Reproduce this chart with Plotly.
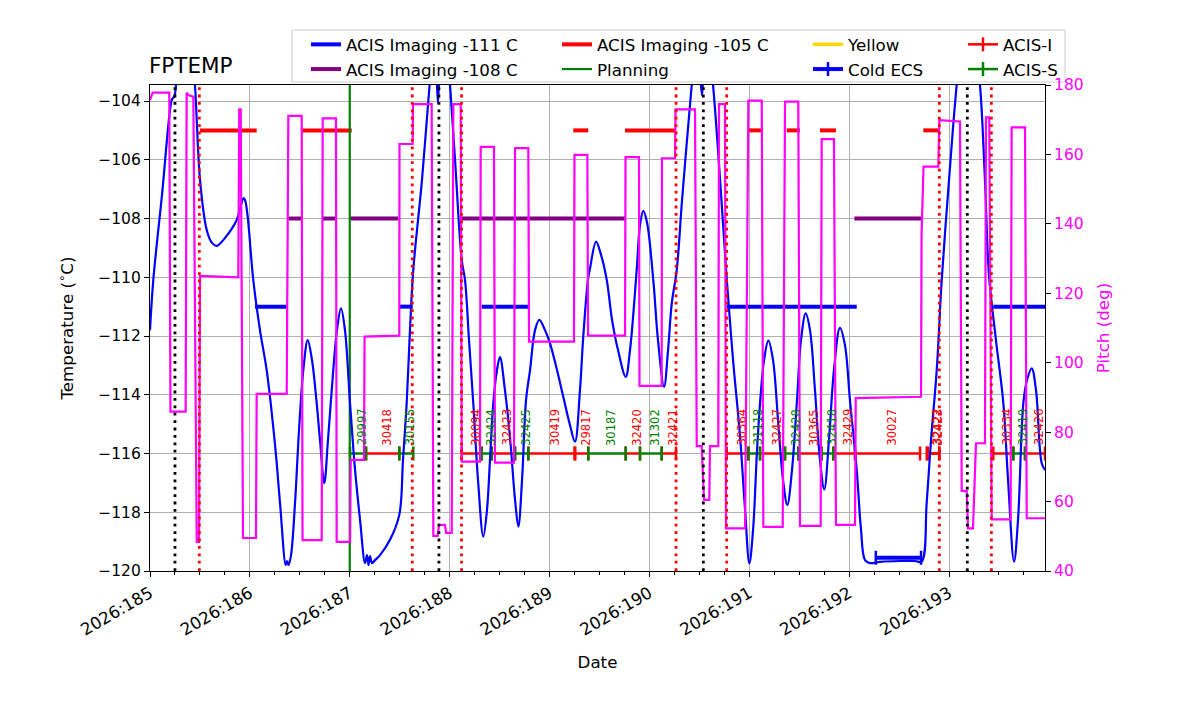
import plotly.graph_objects as go

# ---------------- data ----------------
temp_day = [185.000,185.033,185.120,185.217,185.230,185.245,185.265,185.31,185.36,185.41,185.450,185.501,185.568,185.621,185.668,185.751,185.868,185.911,185.934,185.951,185.976,186.034,186.101,186.168,186.252,186.302,186.359,186.372,186.387,186.412,186.452,186.492,186.535,186.579,186.622,186.669,186.702,186.745,186.782,186.835,186.872,186.912,186.952,187.003,187.053,187.103,187.153,187.173,187.188,187.203,187.223,187.253,187.303,187.403,187.496,187.533,187.570,187.603,187.636,187.723,187.803,187.843,187.863,187.883,187.903,187.944,187.974,188.004,188.054,188.121,188.154,188.194,188.237,188.284,188.337,188.374,188.404,188.437,188.474,188.504,188.554,188.604,188.655,188.688,188.725,188.765,188.805,188.855,188.898,188.955,189.005,189.075,189.138,189.205,189.255,189.305,189.338,189.385,189.406,189.466,189.516,189.573,189.626,189.686,189.763,189.806,189.873,189.906,189.939,189.976,190.039,190.086,190.147,190.187,190.224,190.274,190.327,190.424,190.457,190.487,190.527,190.557,190.597,190.637,190.708,190.775,190.838,190.908,190.958,191.001,191.038,191.078,191.108,191.148,191.191,191.238,191.288,191.338,191.381,191.428,191.478,191.518,191.565,191.608,191.658,191.708,191.751,191.798,191.848,191.908,191.958,192.008,192.076,192.119,192.159,192.209,192.309,192.509,192.659,192.726,192.776,192.820,192.877,192.927,193.000,193.077,193.130,193.190,193.250,193.310,193.360,193.400,193.470,193.544,193.591,193.651,193.691,193.744,193.781,193.828,193.871,193.928,193.961]
temp_val = [-111.80,-110.09,-107.20,-103.97,-103.90,-103.83,-103.29,-101.58,-101.24,-101.92,-103.45,-106.69,-108.39,-108.83,-108.93,-108.66,-108.05,-107.54,-107.31,-107.37,-107.88,-110.09,-111.80,-113.16,-115.71,-117.70,-119.80,-119.66,-119.80,-119.46,-117.69,-115.20,-113.16,-112.14,-112.82,-114.29,-115.54,-117.01,-115.54,-113.16,-111.80,-111.06,-111.80,-114.29,-116.56,-118.26,-119.73,-119.46,-119.80,-119.49,-119.73,-119.63,-119.46,-118.94,-118.09,-116.22,-114.28,-111.80,-109.75,-106.69,-103.29,-101.92,-102.60,-104.07,-102.60,-101.58,-102.26,-103.45,-106.00,-109.41,-110.09,-112.14,-114.29,-116.90,-118.83,-117.92,-116.22,-114.29,-113.16,-112.72,-113.84,-115.43,-117.58,-118.49,-116.90,-114.18,-113.16,-111.80,-111.45,-111.80,-112.25,-113.16,-114.07,-115.03,-115.60,-113.84,-112.02,-110.09,-109.69,-108.79,-109.24,-110.09,-111.45,-112.48,-113.39,-112.48,-109.75,-108.22,-107.74,-108.13,-110.09,-112.14,-113.73,-112.48,-110.89,-109.75,-107.37,-103.45,-102.26,-102.43,-103.80,-102.43,-102.26,-103.45,-106.69,-110.09,-112.82,-115.43,-117.92,-119.74,-118.60,-115.88,-114.29,-112.82,-112.16,-112.82,-114.86,-116.90,-117.75,-116.56,-114.18,-112.14,-111.23,-111.80,-113.84,-116.22,-117.22,-115.54,-113.16,-111.72,-112.31,-114.18,-116.56,-118.60,-119.63,-119.73,-119.69,-119.66,-119.66,-119.68,-117.70,-115.54,-113.16,-110.09,-106.69,-103.45,-101.92,-101.24,-101.75,-103.45,-106.69,-109.92,-112.14,-114.29,-116.90,-119.68,-118.26,-114.29,-113.50,-113.10,-113.84,-116.33,-116.56]

pitch_day = [185.000,185.027,185.193,185.205,185.357,185.367,185.385,185.434,185.468,185.491,185.501,185.884,185.894,185.908,185.931,186.061,186.068,186.369,186.385,186.519,186.527,186.719,186.729,186.862,186.869,187.003,187.010,187.143,187.148,187.496,187.498,187.630,187.633,187.820,187.837,187.881,187.894,187.954,187.964,188.021,188.037,188.111,188.121,188.304,188.311,188.444,188.454,188.644,188.655,188.788,188.795,189.245,189.250,189.379,189.386,189.756,189.761,189.896,189.901,190.123,190.126,190.257,190.262,190.457,190.474,190.524,190.547,190.600,190.607,190.690,190.697,190.757,190.767,190.958,190.991,191.125,191.141,191.335,191.358,191.491,191.508,191.715,191.725,191.848,191.868,192.059,192.066,192.710,192.720,192.725,192.745,192.893,192.903,193.110,193.127,193.177,193.190,193.240,193.270,193.360,193.370,193.403,193.427,193.617,193.627,193.761,193.778,193.961]
pitch_deg = [175.7,177.8,177.8,85.9,85.9,177.8,177.1,176.6,48.4,48.4,125.0,124.6,173.0,173.0,49.5,49.5,91.0,91.0,171.1,171.1,48.9,48.9,170.4,170.4,48.4,48.4,72.0,72.0,107.5,107.8,163.0,163.0,174.5,174.5,50.1,50.1,53.3,53.3,51.0,51.0,174.5,174.5,71.5,71.5,162.2,162.2,71.2,71.2,161.8,161.8,106.1,106.1,159.9,159.9,107.8,107.8,159.2,159.2,93.3,93.3,158.9,158.9,173.0,173.0,76.0,76.0,60.5,60.5,76.0,76.0,174.5,174.5,52.3,52.3,175.5,175.5,52.7,52.7,175.2,175.2,53.0,53.0,164.4,164.4,53.3,53.3,89.8,90.2,90.2,136.8,156.5,156.5,169.9,169.5,63.1,63.1,52.3,52.3,76.8,76.8,170.7,170.7,54.9,54.9,167.8,167.8,55.2,55.2]

# limit segments (start day, stop day)
lim111_start = [186.051, 187.496, 188.321, 190.774, 193.443]
lim111_stop = [186.369, 187.630, 188.788, 192.076, 193.961]
lim108_start = [186.385, 186.729, 187.009, 188.121, 192.052]
lim108_stop = [186.519, 186.862, 187.486, 189.756, 192.727]
lim105_start = [185.500, 186.519, 189.238, 189.756, 190.987, 191.375, 191.708, 192.743]
lim105_stop = [186.068, 187.020, 189.388, 190.256, 191.137, 191.508, 191.868, 192.893]
LIM111, LIM108, LIM105 = -111.0, -108.0, -105.0

planning_day = [187.0]
perigee_days = [185.250, 187.893, 190.540, 193.183]
radzone_days = [185.494, 187.626, 188.119, 190.267, 190.774, 192.903, 193.424]

cold_ecs_start = [192.267]
cold_ecs_stop = [192.720]
cold_ecs_temp = -119.55

obsids = ["29997","30418","30155","30094","32424","32423","32425","30419","29817","30187",
          "32420","31302","32421","30364","31118","32427","32428","30365","32418","32429",
          "30027","32422","32423","30334","32419","32426"]
obs_instr = ["S","I","S","I","S","I","S","I","I","S",
             "I","S","I","I","S","I","S","I","S","I",
             "I","I","I","I","S","I"]
obs_start = [187.003,187.163,187.496,188.121,188.321,188.421,188.655,188.788,189.258,189.388,
             189.763,189.906,190.123,190.774,190.991,191.108,191.358,191.491,191.725,191.842,
             192.059,192.777,192.790,193.443,193.644,193.761]
obs_stop = [187.163,187.496,187.636,188.321,188.421,188.655,188.788,189.250,189.388,189.763,
            189.906,190.123,190.267,190.991,191.108,191.358,191.491,191.725,191.842,192.059,
            192.710,192.903,192.903,193.644,193.761,193.961]
OBS_LEVEL = -116.0

day_ticks = [185, 186, 187, 188, 189, 190, 191, 192, 193]
day_labels = ["2026:%d" % d for d in day_ticks]
temp_ticks = [-120, -118, -116, -114, -112, -110, -108, -106, -104]
pitch_ticks = [40, 60, 80, 100, 120, 140, 160, 180]

# ---------------- figure ----------------
FONT = "DejaVu Sans"
FS = 16.7
FT = 15.5
fig = go.Figure()


def seg_xy(starts, stops, level):
    xs, ys = [], []
    for s, e in zip(starts, stops):
        xs += [s, e, None]
        ys += [level, level, None]
    return xs, ys


x, y = seg_xy(lim111_start, lim111_stop, LIM111)
fig.add_trace(go.Scatter(x=x, y=y, mode="lines", line=dict(color="blue", width=4),
                         name="ACIS Imaging -111 C", legend="legend", legendgroup="a"))
x, y = seg_xy(lim108_start, lim108_stop, LIM108)
fig.add_trace(go.Scatter(x=x, y=y, mode="lines", line=dict(color="purple", width=4),
                         name="ACIS Imaging -108 C", legend="legend", legendgroup="b"))
x, y = seg_xy(lim105_start, lim105_stop, LIM105)
fig.add_trace(go.Scatter(x=x, y=y, mode="lines", line=dict(color="red", width=4),
                         name="ACIS Imaging -105 C", legend="legend2", legendgroup="c"))
fig.add_trace(go.Scatter(x=[planning_day[0], planning_day[0]], y=[-130, -90], mode="lines",
                         line=dict(color="green", width=2.2), name="Planning",
                         legend="legend2", legendgroup="d"))
fig.add_trace(go.Scatter(x=[None], y=[None], mode="lines", line=dict(color="gold", width=3.5),
                         name="Yellow", legend="legend3", legendgroup="e"))
x, y = seg_xy(cold_ecs_start, cold_ecs_stop, cold_ecs_temp)
fig.add_trace(go.Scatter(x=x, y=y, mode="lines+markers", line=dict(color="blue", width=4),
                         marker=dict(symbol="line-ns-open", size=10, color="blue",
                                     line=dict(width=2.5, color="blue")),
                         name="Cold ECS", legend="legend3", legendgroup="f"))

for instr, col, nm, grp in [("I", "red", "ACIS-I", "g"), ("S", "green", "ACIS-S", "h")]:
    st = [s for s, i in zip(obs_start, obs_instr) if i == instr]
    sp = [s for s, i in zip(obs_stop, obs_instr) if i == instr]
    x, y = seg_xy(st, sp, OBS_LEVEL)
    fig.add_trace(go.Scatter(x=x, y=y, mode="lines+markers", line=dict(color=col, width=2.5),
                             marker=dict(symbol="line-ns-open", size=10, color=col,
                                         line=dict(width=2.5, color=col)),
                             name=nm, legend="legend4", legendgroup=grp))

fig.add_trace(go.Scatter(x=temp_day, y=temp_val, mode="lines", line=dict(color="blue", width=2.2),
                         line_shape="spline", showlegend=False, name="FPTEMP"))
fig.add_trace(go.Scatter(x=pitch_day, y=pitch_deg, mode="lines", line=dict(color="magenta", width=2.2),
                         yaxis="y2", showlegend=False, name="Pitch"))

# obsid labels
for oid, ins, s, e in zip(obsids, obs_instr, obs_start, obs_stop):
    fig.add_annotation(x=(s + e) / 2, y=OBS_LEVEL, xref="x", yref="y", text=oid,
                       textangle=-90, showarrow=False, xanchor="center", yanchor="bottom",
                       xshift=4, yshift=6,
                       font=dict(size=11.5, color="red" if ins == "I" else "green", family=FONT))

dotdash = "2.8px,4.6px"
for d in perigee_days:
    fig.add_shape(type="line", xref="x", yref="paper", x0=d, x1=d, y0=0, y1=1,
                  line=dict(color="black", width=2.8, dash=dotdash))
for d in radzone_days:
    fig.add_shape(type="line", xref="x", yref="paper", x0=d, x1=d, y0=0, y1=1,
                  line=dict(color="red", width=2.8, dash=dotdash))

# legend frame
L, R, T, B = 150, 1045, 85, 571
W, H = R - L, B - T


def px(xp):
    return (xp - L) / W


def py(yp):
    return (B - yp) / H


fig.add_shape(type="rect", xref="paper", yref="paper", x0=px(292), x1=px(1065), y0=py(82), y1=py(30),
              line=dict(color="#cccccc", width=1), fillcolor="rgba(255,255,255,0.8)", layer="below")

fig.add_annotation(x=0, y=1, xref="paper", yref="paper", text="FPTEMP", showarrow=False,
                   xanchor="left", yanchor="bottom", yshift=5, xshift=-3,
                   font=dict(size=21.5, color="black", family=FONT))

leg_common = dict(orientation="v", yanchor="top", xanchor="left", bgcolor="rgba(0,0,0,0)",
                  borderwidth=0, font=dict(size=FS, family=FONT, color="black"),
                  tracegroupgap=0, itemwidth=30)
fig.update_layout(
    legend=dict(x=px(306), y=py(27), **leg_common),
    legend2=dict(x=px(557), y=py(27), **leg_common),
    legend3=dict(x=px(808), y=py(27), **leg_common),
    legend4=dict(x=px(963), y=py(27), **leg_common),
)

fig.update_layout(
    width=1200, height=714,
    margin=dict(l=L, r=1200 - R, t=T, b=714 - B),
    plot_bgcolor="white", paper_bgcolor="white",
    font=dict(family=FONT, size=FS, color="black"),
    xaxis=dict(range=[185, 193.961], tickmode="array", tickvals=day_ticks, ticktext=day_labels,
               tickangle=-30, ticks="outside", ticklen=5, tickwidth=1.2, tickcolor="black",
               showgrid=True, gridcolor="#b0b0b0", gridwidth=1.3, zeroline=False,
               showline=True, linecolor="black", linewidth=1.3, mirror=True,
               minor=dict(tickmode="linear", tick0=185, dtick=0.25, ticks="outside", ticklen=3,
                          tickwidth=1, tickcolor="black", showgrid=False),
               title=dict(text="Date", font=dict(size=FS), standoff=17), tickfont=dict(size=FS)),
    yaxis=dict(range=[-120, -103.455], tickmode="array", tickvals=temp_ticks,
               ticks="outside", ticklen=5, tickwidth=1.2, tickcolor="black",
               showgrid=True, gridcolor="#b0b0b0", gridwidth=1.3, zeroline=False,
               showline=True, linecolor="black", linewidth=1.3, mirror=True,
               title=dict(text="Temperature (<sup>∘</sup>C)", font=dict(size=FS), standoff=20),
               tickfont=dict(size=FT)),
    yaxis2=dict(range=[40, 180], overlaying="y", side="right", tickmode="array", tickvals=pitch_ticks,
                ticks="outside", ticklen=5, tickwidth=1.2, tickcolor="black", showgrid=False,
                zeroline=False, showline=False,
                tickfont=dict(size=FT, color="magenta"),
                title=dict(text="Pitch (deg)", font=dict(size=FS, color="magenta"), standoff=14)),
)

fig.write_html("out.html")
